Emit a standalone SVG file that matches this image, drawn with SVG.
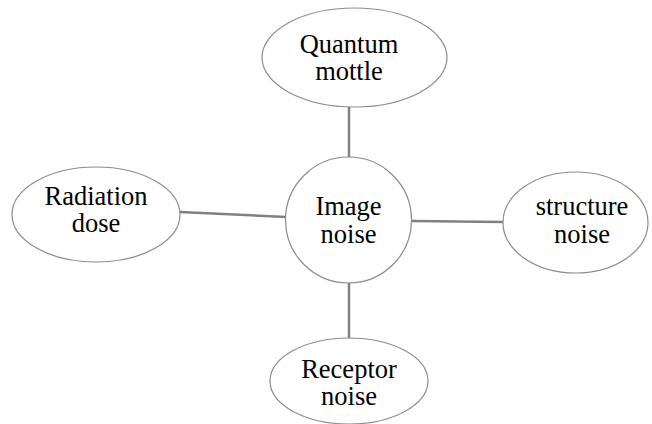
<svg xmlns="http://www.w3.org/2000/svg" width="652" height="424" viewBox="0 0 652 424">
<style>
.node{fill:#fff;stroke:#8c8c8c;stroke-width:1.2}
.lbl{font-family:'Liberation Serif','Times New Roman','DejaVu Serif',serif;font-size:26.5px;fill:#000;text-anchor:middle}
.conn{stroke:#808080;stroke-width:2.5;fill:none}
</style>
<rect width="652" height="424" fill="#fff"/>
<g id="connectors">
<line class="conn" x1="349" y1="107" x2="349" y2="158"/>
<line class="conn" x1="180" y1="212" x2="286" y2="217"/>
<line class="conn" x1="412" y1="221" x2="503" y2="222"/>
<line class="conn" x1="349" y1="283" x2="349" y2="338"/>
</g>
<g id="quantum-mottle">
<ellipse class="node" cx="354.5" cy="57.5" rx="92.5" ry="49.5"/>
<text class="lbl" x="349" y="52.5">Quantum</text>
<text class="lbl" x="349" y="80">mottle</text>
</g>
<g id="radiation-dose">
<ellipse class="node" cx="96" cy="214.5" rx="84" ry="47.5"/>
<text class="lbl" x="96" y="204.5">Radiation</text>
<text class="lbl" x="96" y="232">dose</text>
</g>
<g id="image-noise">
<circle class="node" cx="348.5" cy="220" r="63"/>
<text class="lbl" x="348.5" y="215">Image</text>
<text class="lbl" x="348.5" y="243">noise</text>
</g>
<g id="structure-noise">
<ellipse class="node" cx="575.5" cy="222.5" rx="72.5" ry="50.5"/>
<text class="lbl" x="582" y="215">structure</text>
<text class="lbl" x="582" y="243">noise</text>
</g>
<g id="receptor-noise">
<ellipse class="node" cx="349" cy="381" rx="79" ry="43"/>
<text class="lbl" x="349" y="377.5">Receptor</text>
<text class="lbl" x="349" y="405">noise</text>
</g>
</svg>
